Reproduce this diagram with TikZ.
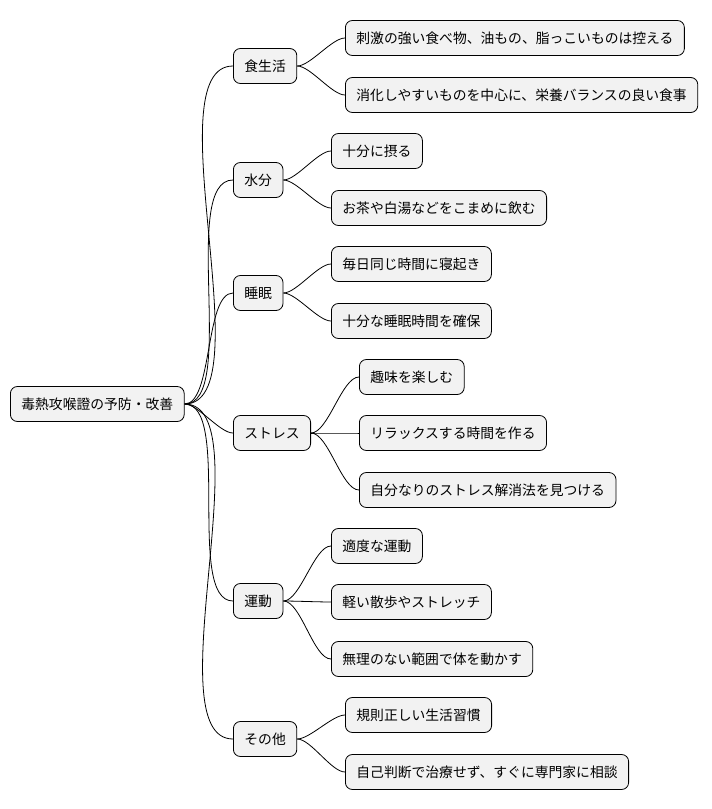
\documentclass[tikz,border=0pt]{standalone}
\usepackage{fontspec}
\setmainfont{Noto Sans CJK JP}
\begin{document}
\begin{tikzpicture}[x=1pt, y=-1pt, line width=0.8pt, topic/.style={draw, rounded corners=7pt, fill=black!5, minimum height=35pt, inner xsep=11pt, anchor=west, font=\fontsize{13.8}{16}\selectfont}, link/.style={out=0, in=180, looseness=0.6}]
\useasboundingbox (0,0) rectangle (712,809);

\node[topic] at (10,404) (root) {毒熱攻喉證の予防・改善};

\node[topic] at (233,66) (diet) {食生活};
\node[topic] at (233,180) (water) {水分};
\node[topic] at (233,293) (sleep) {睡眠};
\node[topic] at (233,433) (stress) {ストレス};
\node[topic] at (233,601) (exercise) {運動};
\node[topic] at (233,739) (other) {その他};

\node[topic] at (345,38) (d0) {刺激の強い食べ物、油もの、脂っこいものは控える};
\node[topic] at (345,95) (d1) {消化しやすいものを中心に、栄養バランスの良い食事};
\node[topic] at (331,151) (w0) {十分に摂る};
\node[topic] at (331,208) (w1) {お茶や白湯などをこまめに飲む};
\node[topic] at (331,264) (s0) {毎日同じ時間に寝起き};
\node[topic] at (331,321) (s1) {十分な睡眠時間を確保};
\node[topic] at (359,377) (t0) {趣味を楽しむ};
\node[topic] at (359,433) (t1) {リラックスする時間を作る};
\node[topic] at (359,490) (t2) {自分なりのストレス解消法を見つける};
\node[topic] at (331,546) (e0) {適度な運動};
\node[topic] at (331,602) (e1) {軽い散歩やストレッチ};
\node[topic] at (331,659) (e2) {無理のない範囲で体を動かす};
\node[topic] at (345,715) (o0) {規則正しい生活習慣};
\node[topic] at (345,772) (o1) {自己判断で治療せず、すぐに専門家に相談};

\foreach \c in {diet, water, sleep, stress, exercise, other}
  \draw (root.east) to[link] (\c.west);
\foreach \p/\c in {diet/d0, diet/d1, water/w0, water/w1, sleep/s0, sleep/s1, stress/t0, stress/t1, stress/t2, exercise/e0, exercise/e1, exercise/e2, other/o0, other/o1}
  \draw (\p.east) to[link] (\c.west);

\end{tikzpicture}
\end{document}
